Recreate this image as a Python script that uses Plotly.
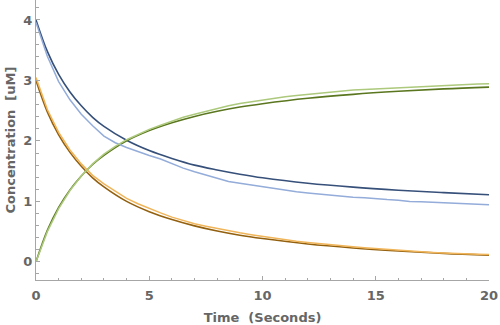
import plotly.graph_objects as go

# Deterministic (rate-equation) curves, sampled on a coarse grid
t_det = [0, 0.5, 1, 1.5, 2, 2.5, 3, 4, 5, 6, 7, 8, 9, 10, 12, 14, 16, 18, 20]
a_det = [4.00, 3.48, 3.10, 2.81, 2.58, 2.39, 2.24, 2.01, 1.84, 1.71, 1.60, 1.52,
         1.45, 1.39, 1.30, 1.235, 1.185, 1.145, 1.11]
b_det = [3.00, 2.48, 2.10, 1.81, 1.58, 1.39, 1.24, 1.00, 0.83, 0.70, 0.595, 0.51,
         0.44, 0.385, 0.295, 0.23, 0.18, 0.14, 0.11]
c_det = [0.00, 0.52, 0.90, 1.19, 1.42, 1.61, 1.76, 2.00, 2.17, 2.30, 2.405, 2.49,
         2.56, 2.615, 2.705, 2.77, 2.82, 2.86, 2.89]

# Stochastic simulation traces, sampled every half second
t_sim = [i * 0.5 for i in range(41)]
a_sim = [3.96, 3.40, 2.98, 2.68, 2.44, 2.25, 2.08, 1.97, 1.89, 1.82, 1.76, 1.70,
         1.62, 1.55, 1.49, 1.44, 1.38, 1.33, 1.30, 1.27, 1.25, 1.22, 1.19, 1.16,
         1.14, 1.12, 1.10, 1.09, 1.07, 1.06, 1.04, 1.03, 1.02, 1.00, 0.995, 0.99,
         0.98, 0.97, 0.96, 0.95, 0.945]
b_sim = [3.05, 2.52, 2.14, 1.85, 1.62, 1.43, 1.29, 1.17, 1.05, 0.96, 0.88, 0.81,
         0.74, 0.68, 0.63, 0.59, 0.55, 0.51, 0.48, 0.45, 0.42, 0.39, 0.365, 0.34,
         0.32, 0.30, 0.28, 0.265, 0.25, 0.235, 0.22, 0.205, 0.19, 0.18, 0.17,
         0.155, 0.145, 0.135, 0.13, 0.125, 0.12]
c_sim = [0.00, 0.50, 0.88, 1.18, 1.42, 1.62, 1.78, 1.91, 2.02, 2.11, 2.19, 2.26,
         2.33, 2.39, 2.44, 2.49, 2.54, 2.58, 2.62, 2.65, 2.68, 2.71, 2.73, 2.75,
         2.77, 2.79, 2.81, 2.83, 2.84, 2.85, 2.86, 2.87, 2.88, 2.89, 2.90, 2.91,
         2.92, 2.925, 2.93, 2.94, 2.945]

x_ticks = [0, 5, 10, 15, 20]
y_ticks = [0, 1, 2, 3, 4]

fig = go.Figure()

det_series = [(a_det, "#36507a"), (b_det, "#93600e"), (c_det, "#5a761f")]
sim_series = [(a_sim, "#93acd9"), (b_sim, "#f0b55a"), (c_sim, "#acc97c")]

for ys, col in det_series:
    fig.add_trace(go.Scatter(x=t_det, y=ys, mode="lines",
                             line=dict(color=col, width=1.6, shape="spline"),
                             showlegend=False))
for ys, col in sim_series:
    fig.add_trace(go.Scatter(x=t_sim, y=ys, mode="lines",
                             line=dict(color=col, width=1.5), showlegend=False))

axis_col = "#a6a6a6"
label_font = dict(family="DejaVu Sans", size=13, color="#666666", weight="bold")

fig.update_layout(
    width=500, height=325,
    margin=dict(l=36, r=11, t=0, b=45),
    paper_bgcolor="white", plot_bgcolor="white",
    xaxis=dict(
        range=[0, 20], tickvals=x_ticks, ticks="inside", ticklen=4,
        tickcolor=axis_col, showline=True, linecolor=axis_col, linewidth=1,
        showgrid=False, zeroline=False, tickfont=label_font,
        ticklabelstandoff=3,
        minor=dict(dtick=1, ticks="inside", ticklen=2.5, tickcolor=axis_col),
        title=dict(text="Time  (Seconds)", font=label_font, standoff=12),
    ),
    yaxis=dict(
        range=[-0.3, 4.33], tickvals=y_ticks, ticks="inside", ticklen=4,
        tickcolor=axis_col, showline=True, linecolor=axis_col, linewidth=1,
        showgrid=False, zeroline=False, tickfont=label_font,
        minor=dict(dtick=0.2, ticks="inside", ticklen=2.5, tickcolor=axis_col),
        title=dict(text="Concentration  [uM]", font=label_font, standoff=4),
    ),
)

fig.write_html("out.html")
